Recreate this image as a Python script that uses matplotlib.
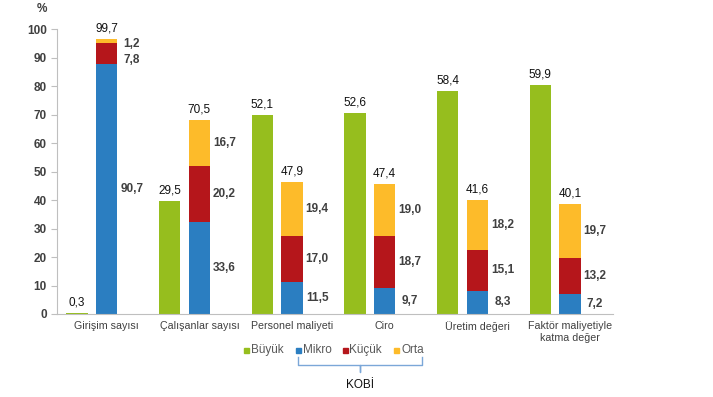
import matplotlib
matplotlib.use("Agg")
import matplotlib.pyplot as plt
import numpy as np
from matplotlib.lines import Line2D
from matplotlib.patches import Rectangle

plt.rcParams['font.family'] = ['Liberation Sans', 'DejaVu Sans']

categories = ["Girişim sayısı", "Çalışanlar sayısı", "Personel maliyeti", "Ciro",
              "Üretim değeri", "Faktör maliyetiyle\nkatma değer"]
# printed values (labels)
buyuk_lbl = ["0,3", "29,5", "52,1", "52,6", "58,4", "59,9"]
kobi_lbl = ["99,7", "70,5", "47,9", "47,4", "41,6", "40,1"]
mikro_lbl = ["90,7", "33,6", "11,5", "9,7", "8,3", "7,2"]
kucuk_lbl = ["7,8", "20,2", "17,0", "18,7", "15,1", "13,2"]
orta_lbl = ["1,2", "16,7", "19,4", "19,0", "18,2", "19,7"]
# bar heights as drawn in the picture
buyuk_h = [0.4, 39.7, 69.9, 70.6, 78.3, 80.4]
mikro_h = [87.8, 32.3, 11.2, 9.1, 8.1, 7.0]
kucuk_h = [7.5, 19.8, 16.2, 18.3, 14.4, 12.7]
orta_h = [1.3, 16.0, 19.0, 18.4, 17.5, 18.9]

C_B, C_M, C_K, C_O = "#96BE1E", "#2B7EC1", "#B5161B", "#FDBB2A"
GRID = "#BFBFBF"
TXT = "#404040"

fig = plt.figure(figsize=(7.13, 3.97), dpi=100)
ax = fig.add_axes([56.7 / 713, 1 - 314 / 397, 556 / 713, (314 - 29.3) / 397])

x = np.arange(len(categories))
w = 0.23
xb = x - 0.28
xk = x + 0.04
ax.bar(xb, buyuk_h, w, color=C_B)
ax.bar(xk, mikro_h, w, color=C_M)
b1 = np.array(mikro_h)
ax.bar(xk, kucuk_h, w, bottom=b1, color=C_K)
b2 = b1 + np.array(kucuk_h)
ax.bar(xk, orta_h, w, bottom=b2, color=C_O)
tops = b2 + np.array(orta_h)

fs = 8.5
for i in range(len(categories)):
    ax.annotate(buyuk_lbl[i], (xb[i], buyuk_h[i]), xytext=(0, 3), textcoords="offset points",
                ha="center", va="bottom", fontsize=fs, color="#111111")
    ax.annotate(kobi_lbl[i], (xk[i], tops[i]), xytext=(0, 3), textcoords="offset points",
                ha="center", va="bottom", fontsize=fs, color="#111111")
    ym = [mikro_h[i] / 2, b1[i] + kucuk_h[i] / 2, b2[i] + orta_h[i] / 2]
    if i == 0:
        ym[1], ym[2] = 89.2, 94.9
    for y, t in zip(ym, [mikro_lbl[i], kucuk_lbl[i], orta_lbl[i]]):
        ax.text(x[i] + 0.31, y, t, ha="center", va="center", fontsize=fs,
                fontweight="bold", color=TXT)

ax.set_xlim(-0.5, 5.5)
ax.set_ylim(0, 100)
ax.set_yticks(range(0, 101, 10))
ax.set_xticks(x + 0.04)
ax.set_xticklabels(categories, fontsize=7.7, color=TXT)
for lb in ax.get_yticklabels():
    lb.set_fontweight("bold"); lb.set_fontsize(fs); lb.set_color(TXT)
ax.tick_params(axis="y", length=4, color=GRID, pad=3)
ax.tick_params(axis="x", length=0, pad=5)
for s in ["top", "right"]:
    ax.spines[s].set_visible(False)
for s in ["left", "bottom"]:
    ax.spines[s].set_color(GRID)
fig.text(42 / 713, 1 - 9 / 397, "%", ha="center", va="center", fontsize=fs,
         fontweight="bold", color=TXT)

# legend
leg = [("Büyük", C_B, 246.7), ("Mikro", C_M, 298), ("Küçük", C_K, 345), ("Orta", C_O, 396.7)]
ly = 350
for name, c, px in leg:
    fig.patches.append(Rectangle(((px - 2.5) / 713, 1 - (ly + 2.5) / 397), 5 / 713, 5 / 397,
                                 transform=fig.transFigure, color=c))
    fig.text((px + 4.5) / 713, 1 - ly / 397, name, ha="left", va="center", fontsize=fs,
             color="#595959")

# KOBI bracket
bx = [298, 298, 358, 360, 360, 360, 362, 421.7, 421.7]
by = [357, 365, 365, 365, 372, 365, 365, 365, 357]
fig.lines.append(Line2D([v / 713 for v in bx], [1 - v / 397 for v in by],
                        transform=fig.transFigure, color="#7BA7D8", lw=1))
fig.text(360 / 713, 1 - 385 / 397, "KOBİ", ha="center", va="center", fontsize=fs, color="#111111")

fig.savefig("out.png", dpi=100)
